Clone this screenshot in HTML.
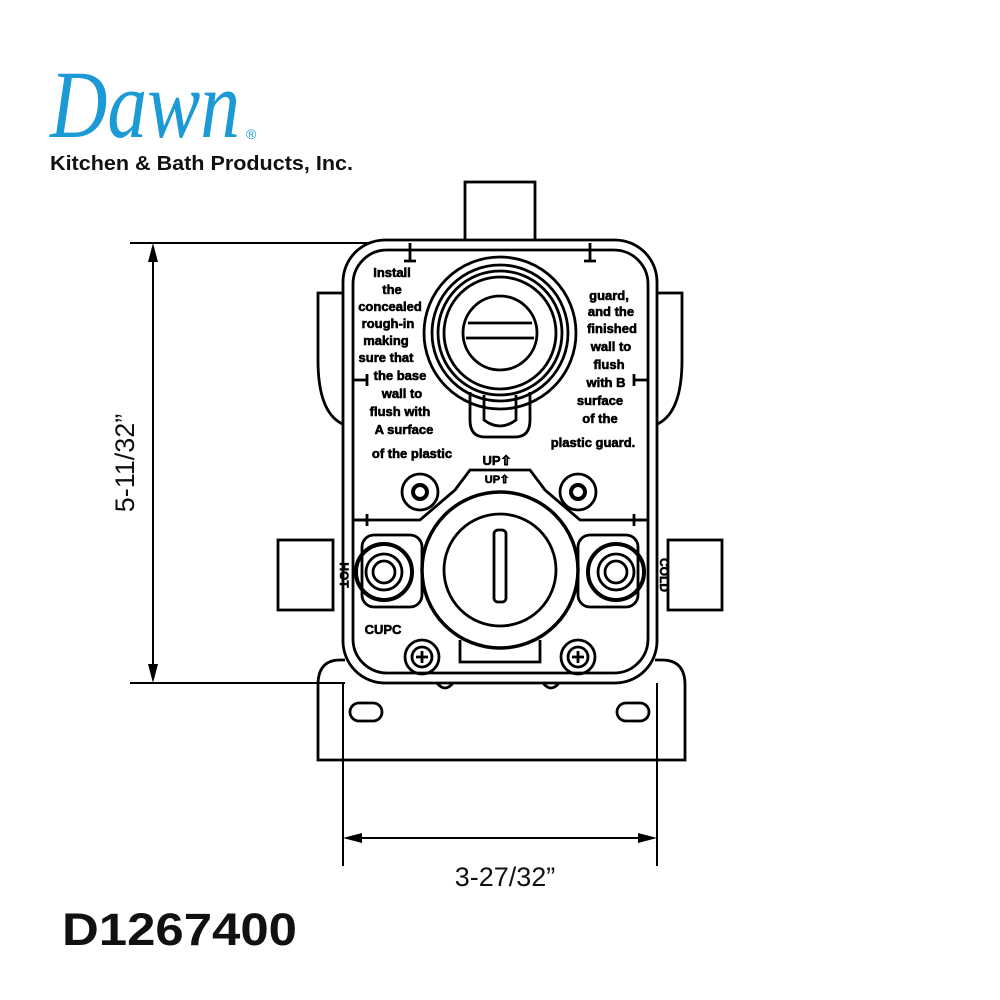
<!DOCTYPE html>
<html><head><style>
html,body{margin:0;padding:0;background:#fff;}
svg{display:block;}
</style></head><body>
<svg width="1000" height="1000" viewBox="0 0 1000 1000" xmlns="http://www.w3.org/2000/svg">
<rect width="1000" height="1000" fill="#fff"/>
<!-- Logo -->
<text x="50" y="137" font-family="Liberation Serif, serif" font-style="italic" font-size="96" fill="#1b9ad6" textLength="190" lengthAdjust="spacingAndGlyphs">Dawn</text>
<text x="246" y="139" font-family="Liberation Sans, sans-serif" font-size="14" fill="#1b9ad6">®</text>
<text x="50" y="170" font-family="Liberation Sans, sans-serif" font-weight="bold" font-size="20" fill="#111" textLength="303" lengthAdjust="spacingAndGlyphs">Kitchen &amp; Bath Products, Inc.</text>

<g fill="none" stroke="#000" stroke-width="2">
<line x1="130" y1="243" x2="420" y2="243"/>
<line x1="130" y1="683" x2="345" y2="683"/>
<line x1="153" y1="258" x2="153" y2="668"/>
<line x1="343" y1="683" x2="343" y2="866"/>
<line x1="657" y1="683" x2="657" y2="866"/>
<line x1="358" y1="838" x2="642" y2="838"/>
</g>
<g fill="#000">
<polygon points="153,243 148,262 158,262"/>
<polygon points="153,683 148,664 158,664"/>
<polygon points="343,838 362,833 362,843"/>
<polygon points="657,838 638,833 638,843"/>
</g>
<text transform="translate(134,463) rotate(-90)" text-anchor="middle" font-family="Liberation Sans, sans-serif" font-size="27" fill="#111">5-11/32”</text>
<text x="505" y="886" text-anchor="middle" font-family="Liberation Sans, sans-serif" font-size="27" fill="#111">3-27/32”</text>
<text x="62" y="945" font-family="Liberation Sans, sans-serif" font-weight="bold" font-size="45" fill="#111" textLength="235" lengthAdjust="spacingAndGlyphs">D1267400</text>

<g fill="none" stroke="#000" stroke-width="2.8">
<path d="M345,660 L340,660 Q318,660 318,685 L318,760 L685,760 L685,685 Q685,660 662,660 L655,660"/>
<rect x="350" y="703" width="32" height="18" rx="9"/>
<rect x="617" y="703" width="32" height="18" rx="9"/>
<path d="M437,683 q8,10 16,0 M543,683 q8,10 16,0"/>
<rect x="465" y="182" width="70" height="60" fill="#fff"/>
<path d="M345,293 L318,293 L318,360 Q318,415 345,425"/>
<path d="M655,293 L682,293 L682,360 Q682,415 655,425"/>
<rect x="278" y="540" width="55" height="70" fill="#fff"/>
<rect x="668" y="540" width="54" height="70" fill="#fff"/>
<rect x="343" y="240" width="314" height="443" rx="42" fill="#fff"/>
<rect x="353" y="250" width="295" height="423" rx="34"/>
<circle cx="500" cy="333" r="76"/>
<circle cx="500" cy="333" r="68"/>
<circle cx="500" cy="333" r="62"/>
<circle cx="500" cy="333" r="56"/>
<circle cx="500" cy="333" r="37"/>
<line x1="468" y1="323" x2="532" y2="323"/>
<line x1="466" y1="338" x2="534" y2="338"/>
<path d="M470,392 L470,420 Q470,437 485,437 L515,437 Q530,437 530,420 L530,392"/>
<path d="M484,395 L484,420 Q500,432 516,420 L516,395"/>
<path d="M353,520 L420,520 L455,490 L470,470 L530,470 L545,490 L580,520 L648,520"/>
<rect x="362" y="535" width="60" height="72" rx="12"/>
<rect x="578" y="535" width="60" height="72" rx="12"/>
<circle cx="384" cy="572" r="28" stroke-width="4"/>
<circle cx="384" cy="572" r="18"/>
<circle cx="384" cy="572" r="11"/>
<circle cx="616" cy="572" r="28" stroke-width="4"/>
<circle cx="616" cy="572" r="18"/>
<circle cx="616" cy="572" r="11"/>
<circle cx="500" cy="570" r="78" fill="#fff" stroke-width="3.5"/>
<circle cx="500" cy="570" r="56"/>
<rect x="494" y="530" width="12" height="72" rx="4"/>
<path d="M460,640 L460,662 L540,662 L540,640"/>
<circle cx="420" cy="492" r="18"/>
<circle cx="420" cy="492" r="7" stroke-width="4"/>
<circle cx="578" cy="492" r="18"/>
<circle cx="578" cy="492" r="7" stroke-width="4"/>
<circle cx="422" cy="657" r="17"/>
<circle cx="422" cy="657" r="10"/>
<circle cx="578" cy="657" r="17"/>
<circle cx="578" cy="657" r="10"/>
<path d="M416,657 h12 M422,651 v12 M572,657 h12 M578,651 v12"/>
<path d="M410,243 v18 M404,261 h12 M590,243 v18 M584,261 h12 M353,380 h14 M367,374 v12 M648,380 h-14 M634,374 v12 M353,520 h14 M367,514 v12 M648,520 h-14 M634,514 v12"/>
</g>

<g font-family="Liberation Sans, sans-serif" font-weight="bold" font-size="13" fill="#000" stroke="#000" stroke-width="0.6" text-anchor="middle">
<text x="392" y="277">Install</text>
<text x="392" y="294">the</text>
<text x="390" y="311">concealed</text>
<text x="388" y="328">rough-in</text>
<text x="386" y="345">making</text>
<text x="386" y="362">sure that</text>
<text x="400" y="380">the base</text>
<text x="402" y="398">wall to</text>
<text x="400" y="416">flush with</text>
<text x="404" y="434">A surface</text>
<text x="412" y="458">of the plastic</text>
<text x="609" y="300">guard,</text>
<text x="611" y="316">and the</text>
<text x="612" y="333">finished</text>
<text x="611" y="351">wall to</text>
<text x="609" y="369">flush</text>
<text x="606" y="387">with B</text>
<text x="600" y="405">surface</text>
<text x="600" y="423">of the</text>
<text x="593" y="447">plastic guard.</text>
<text x="497" y="465">UP⇧</text>
<text x="497" y="483" font-size="11">UP⇧</text>
<text x="383" y="634">CUPC</text>
<text transform="translate(340,575) rotate(90)" font-size="12">HOT</text>
<text transform="translate(660,575) rotate(90)" font-size="12">COLD</text>
</g>
</svg>
</body></html>
